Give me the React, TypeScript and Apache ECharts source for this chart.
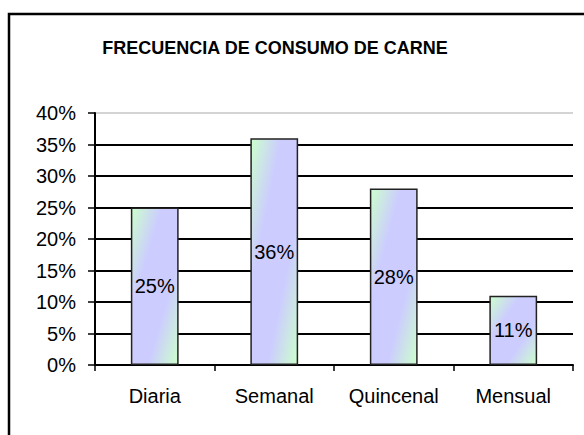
import React, { useEffect, useRef } from "react";
import * as echarts from "echarts";

const titleText = "FRECUENCIA DE CONSUMO DE CARNE";
const categories = ["Diaria", "Semanal", "Quincenal", "Mensual"];
const values = [25, 36, 28, 11];
const yMin = 0;
const yMax = 40;
const yStep = 5;

export default function App() {
  const ref = useRef<HTMLDivElement>(null);
  useEffect(() => {
    if (!ref.current) return;
    const chart = echarts.init(ref.current, null, { renderer: "svg" });
    const font = "'Liberation Sans', Arial, sans-serif";
    const gridColors = [
      "#000", "#000", "#000", "#000", "#000", "#000", "#000", "#000", "#d4d4d4",
    ];
    chart.setOption({
      animation: false,
      backgroundColor: "#fff",
      title: {
        text: titleText,
        left: 270,
        textAlign: "center",
        top: 34,
        textStyle: {
          fontFamily: font,
          fontSize: 18,
          fontWeight: "bold",
          color: "#000",
        },
      },
      graphic: [
        {
          type: "rect",
          shape: { x: 9, y: 14, width: 620, height: 460 },
          style: { fill: "none", stroke: "#000", lineWidth: 2.5 },
          silent: true,
        },
      ],
      grid: { left: 95, right: 11, top: 113, bottom: 70, containLabel: false },
      xAxis: {
        type: "category",
        data: categories,
        axisLine: { lineStyle: { color: "#000", width: 2 } },
        axisTick: { show: true, length: 6, lineStyle: { color: "#000", width: 1.5 } },
        axisLabel: {
          margin: 21,
          fontFamily: font,
          fontSize: 20,
          color: "#000",
        },
      },
      yAxis: {
        type: "value",
        min: yMin,
        max: yMax,
        interval: yStep,
        axisLine: { show: true, lineStyle: { color: "#000", width: 2 } },
        axisTick: { show: true, length: 7, lineStyle: { color: "#000", width: 1.5 } },
        axisLabel: {
          formatter: "{value}%",
          margin: 19,
          fontFamily: font,
          fontSize: 20,
          color: "#000",
        },
        splitLine: { show: true, lineStyle: { color: gridColors, width: 2 } },
      },
      series: [
        {
          type: "bar",
          data: values,
          barWidth: "40%",
          itemStyle: {
            color: new echarts.graphic.LinearGradient(0, 0, 1, 1, [
              { offset: 0, color: "#ccffcc" },
              { offset: 0.33, color: "#ccccff" },
              { offset: 0.67, color: "#ccccff" },
              { offset: 1, color: "#ccffcc" },
            ]),
            borderColor: "#222",
            borderWidth: 1.5,
          },
          label: {
            show: true,
            position: "inside",
            formatter: "{c}%",
            fontFamily: font,
            fontSize: 20,
            color: "#000",
          },
        },
      ],
    });
    return () => chart.dispose();
  }, []);
  return (
    <div
      ref={ref}
      style={{ position: "absolute", left: 0, top: 0, width: 584, height: 435 }}
    />
  );
}
